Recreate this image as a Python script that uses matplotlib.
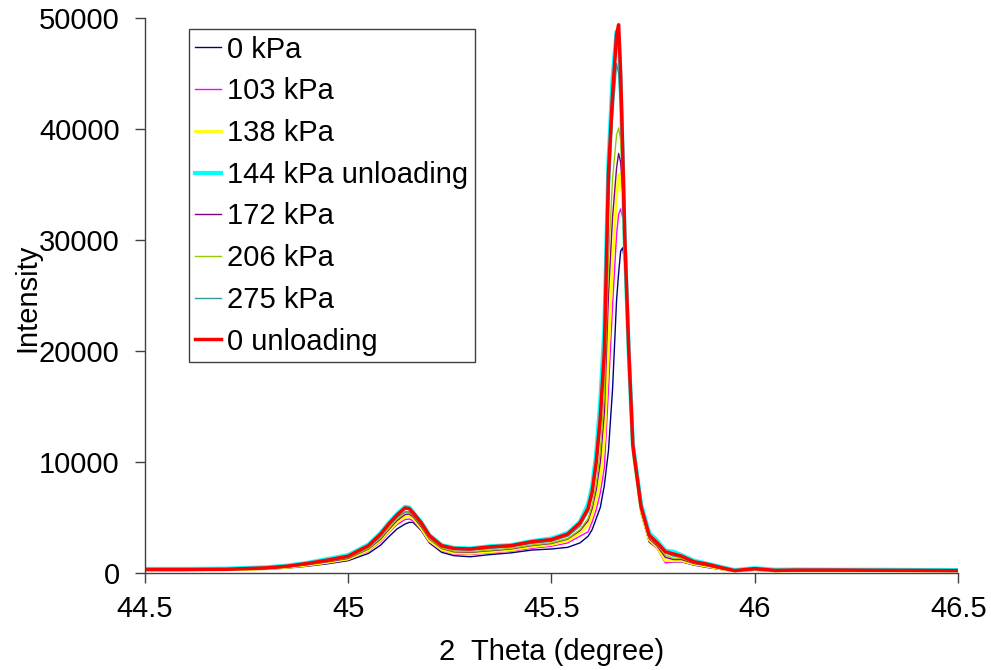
import matplotlib
matplotlib.use("Agg")
import matplotlib.pyplot as plt

plt.rcParams['font.family'] = ['Liberation Sans', 'DejaVu Sans']

# shared 2-theta grid (degree)
two_theta = [44.50, 44.60, 44.70, 44.80, 44.85, 44.90, 44.95, 45.00, 45.05, 45.08,
             45.10, 45.12, 45.14, 45.15, 45.16, 45.18, 45.20, 45.23, 45.26, 45.30,
             45.35, 45.40, 45.45, 45.50, 45.54, 45.57, 45.59, 45.60, 45.61, 45.62,
             45.63, 45.64, 45.65, 45.66, 45.665, 45.67, 45.675, 45.68, 45.69, 45.70,
             45.72, 45.74, 45.76, 45.78, 45.80, 45.82, 45.85, 45.88, 45.92, 45.95,
             46.00, 46.05, 46.10, 46.20, 46.30, 46.40, 46.50]

i_0kpa = [220, 220, 240, 320, 430, 600, 820, 1100, 1750, 2500,
          3250, 3950, 4400, 4550, 4550, 3800, 2700, 1850, 1550, 1450,
          1650, 1800, 2050, 2150, 2300, 2700, 3300, 3900, 4900, 5900,
          7900, 11000, 16500, 24600, 27000, 29000, 29300, 28000, 18500, 10700,
          5400, 2800, 2200, 1000, 1000, 1000, 700, 500, 280, 130,
          230, 130, 160, 160, 160, 150, 150]

i_103kpa = [240, 240, 260, 350, 470, 660, 900, 1200, 1950, 2800,
            3600, 4350, 4800, 4850, 4700, 3850, 2800, 2000, 1700, 1650,
            1800, 1950, 2200, 2400, 2700, 3300, 3700, 4600, 5700, 7200,
            9500, 16500, 24000, 30500, 32300, 32800, 32000, 28000, 18500, 10800,
            5500, 2900, 2200, 900, 1000, 1000, 750, 550, 300, 150,
            250, 150, 180, 180, 180, 170, 170]

i_138kpa = [250, 250, 270, 370, 500, 700, 950, 1250, 2050, 2950,
            3750, 4550, 5050, 5100, 4900, 4000, 2900, 2100, 1800, 1750,
            1900, 2050, 2350, 2550, 2900, 3600, 4300, 5200, 6600, 8500,
            12000, 20000, 28000, 34000, 35800, 36000, 33500, 28500, 18800, 10900,
            5600, 3000, 2300, 1100, 1100, 1100, 800, 600, 330, 170,
            280, 170, 190, 190, 190, 180, 180]

i_144kpa_unl = [350, 350, 380, 500, 650, 900, 1250, 1600, 2550, 3600,
                4500, 5300, 5950, 5900, 5450, 4550, 3400, 2500, 2250, 2200,
                2400, 2500, 2850, 3100, 3600, 4600, 6200, 7800, 10800, 15500,
                22000, 37000, 44500, 48800, 48500, 44000, 37500, 30000, 19800, 11600,
                6200, 3600, 2900, 2000, 1900, 1600, 1100, 850, 500, 250,
                420, 280, 300, 280, 280, 260, 250]

i_172kpa = [260, 260, 280, 390, 520, 740, 1000, 1300, 2150, 3050,
            3900, 4700, 5250, 5300, 5050, 4150, 3050, 2200, 1900, 1850,
            2000, 2150, 2450, 2650, 3050, 3800, 4700, 5800, 7500, 10000,
            14500, 25000, 32000, 36500, 37800, 37000, 34500, 29000, 19000, 11000,
            5700, 3100, 2400, 1400, 1200, 1200, 850, 650, 350, 180,
            300, 180, 200, 200, 200, 190, 190]

i_206kpa = [270, 270, 290, 400, 540, 770, 1050, 1350, 2200, 3150,
            4000, 4850, 5400, 5450, 5150, 4250, 3100, 2250, 1950, 1900,
            2050, 2200, 2500, 2700, 3100, 3900, 4900, 6100, 8000, 11000,
            16000, 28000, 35500, 39500, 40100, 39000, 35500, 29500, 19300, 11200,
            5800, 3200, 2500, 1600, 1300, 1300, 900, 700, 380, 200,
            330, 200, 220, 220, 210, 200, 200]

i_275kpa = [280, 280, 300, 420, 560, 800, 1100, 1400, 2300, 3300,
            4200, 5000, 5500, 5500, 5200, 4300, 3200, 2350, 2100, 2050,
            2200, 2350, 2650, 2850, 3300, 4200, 5500, 7000, 9500, 13000,
            19000, 33000, 41000, 45900, 45000, 42000, 36500, 30000, 19500, 11300,
            5900, 3300, 2600, 1800, 1500, 1400, 950, 750, 400, 200,
            350, 200, 230, 230, 220, 200, 200]

i_0_unl = [300, 300, 320, 450, 600, 850, 1150, 1500, 2450, 3500,
           4400, 5200, 5850, 5800, 5400, 4500, 3350, 2450, 2200, 2150,
           2350, 2450, 2800, 3000, 3500, 4500, 5800, 7300, 10000, 14000,
           20000, 36000, 43000, 48500, 49400, 45000, 38000, 30500, 20000, 11500,
           6000, 3400, 2700, 1900, 1700, 1500, 1000, 800, 450, 200,
           380, 220, 250, 250, 230, 220, 200]

labels = ['0 kPa', '103 kPa', '138 kPa', '144 kPa unloading',
          '172 kPa', '206 kPa', '275 kPa', '0 unloading']
series = [i_0kpa, i_103kpa, i_138kpa, i_144kpa_unl,
          i_172kpa, i_206kpa, i_275kpa, i_0_unl]
colors = ['#000080', '#FF00FF', '#FFFF00', '#00FFFF',
          '#800080', '#99CC00', '#339999', '#FF0000']
widths = [1.0, 1.0, 2.0, 3.0, 1.0, 1.0, 1.0, 2.5]
x_ticks = [44.5, 45, 45.5, 46, 46.5]
y_ticks = [0, 10000, 20000, 30000, 40000, 50000]

fig = plt.figure(figsize=(9.91, 6.70), dpi=100)
ax = fig.add_axes([0.146, 0.145, 0.821, 0.828])

for y, lab, c, lw in zip(series, labels, colors, widths):
    ax.plot(two_theta, y, color=c, lw=lw, label=lab)

ax.set_xlim(44.5, 46.5)
ax.set_ylim(0, 50000)
ax.set_xticks(x_ticks)
ax.set_xticklabels(['44.5', '45', '45.5', '46', '46.5'])
ax.set_yticks(y_ticks)
ax.set_yticklabels([str(v) for v in y_ticks])

for s in ['top', 'right']:
    ax.spines[s].set_visible(False)
for s in ['left', 'bottom']:
    ax.spines[s].set_color('#404040')
    ax.spines[s].set_linewidth(1.0)

ax.tick_params(axis='both', direction='out', length=7, width=1, color='#404040',
               labelsize=21)
ax.tick_params(axis='y', pad=11)
ax.tick_params(axis='x', pad=9)

ax.set_xlabel('2  Theta (degree)', fontsize=21)
ax.xaxis.set_label_coords(0.5, -0.118)
ax.set_ylabel('Intensity', fontsize=21)
ax.yaxis.set_label_coords(-0.127, 0.495)

leg = ax.legend(loc='upper left', bbox_to_anchor=(0.054, 0.980), borderaxespad=0,
                fontsize=21, frameon=True, fancybox=False, framealpha=1,
                edgecolor='#404040', handlelength=0.9, handletextpad=0.2,
                labelspacing=0.47, borderpad=0.22)
leg.get_frame().set_linewidth(1.0)

fig.savefig('out.png', dpi=100)
